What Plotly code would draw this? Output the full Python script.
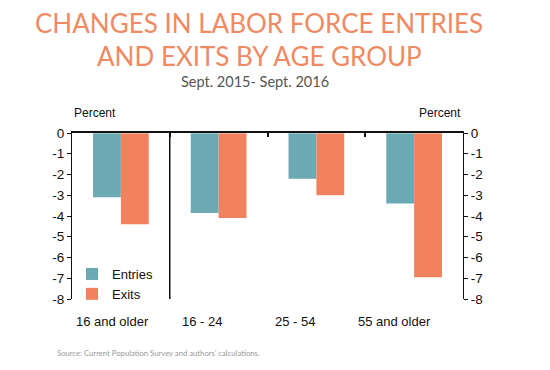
import plotly.graph_objects as go

categories = ["16 and older", "16 - 24", "25 - 54", "55 and older"]
entries = [-3.1, -3.85, -2.2, -3.4]
exits = [-4.4, -4.1, -3.0, -6.95]
y_ticks = [0, -1, -2, -3, -4, -5, -6, -7, -8]
y_ticktext = ["0", "-1", "-2", "-3", "-4", "-5", "-6", "-7", "-8"]

teal = "#6BA9B3"
salmon = "#F2825F"
title_color = "#EF8A62"

# page body has an 8px margin; target coordinates below are page pixels
OFF = 8
W, H = 542, 362
ML = 72 - OFF
MT = 133 - OFF
MR = W - (463 - OFF)
MB = H - (299 - OFF)
PW, PH = W - ML - MR, H - MT - MB


def px(x):
    return (x - OFF - ML) / PW


def py(y):
    return (H - MB - (y - OFF)) / PH


fig = go.Figure()
fig.add_trace(go.Bar(name="Entries", x=categories, y=entries, marker_color=teal, marker_line_width=0))
fig.add_trace(go.Bar(name="Exits", x=categories, y=exits, marker_color=salmon, marker_line_width=0))

tickfont = dict(family="Liberation Sans, Arial, sans-serif", size=13.5, color="#111")

fig.update_layout(
    width=W, height=H,
    margin=dict(l=ML, r=MR, t=MT, b=MB),
    paper_bgcolor="white", plot_bgcolor="white",
    barmode="group", bargap=0.43, bargroupgap=0,
    showlegend=True,
    legend=dict(x=0.0, y=py(259), xanchor="left", yanchor="top",
                font=dict(family="Liberation Sans, Arial, sans-serif", size=13, color="#111"),
                bgcolor="rgba(0,0,0,0)", itemwidth=30, tracegroupgap=0),
    xaxis=dict(side="top", showticklabels=False, showline=True, linecolor="#111", linewidth=1.5,
               ticks="inside", tickson="boundaries", ticklen=4, tickcolor="#111", tickwidth=2,
               showgrid=False, zeroline=False, automargin=False),
    yaxis=dict(range=[-8, 0], tickvals=y_ticks, ticktext=y_ticktext, ticks="outside", ticklen=4,
               tickcolor="#111", showline=True, linecolor="#111", linewidth=1.2,
               showgrid=False, zeroline=False, tickfont=tickfont, automargin=False),
    yaxis2=dict(range=[-8, 0], matches="y", overlaying="y", side="right",
                tickvals=y_ticks, ticktext=y_ticktext, ticks="outside", ticklen=4,
                tickcolor="#111", showline=True, linecolor="#111", linewidth=1.2,
                showgrid=False, zeroline=False, tickfont=tickfont, automargin=False),
)
# invisible trace to activate right axis
fig.add_trace(go.Bar(x=categories, y=[0, 0, 0, 0], yaxis="y2", showlegend=False,
                     hoverinfo="skip", marker_color="rgba(0,0,0,0)"))

# divider between overall and age groups
fig.add_shape(type="line", xref="x", yref="y", x0=0.5, x1=0.5, y0=-8, y1=0,
              line=dict(color="#111", width=1.5))

# category labels
label_shifts = [-8, -17, -21, -20]
for c, s in zip(categories, label_shifts):
    fig.add_annotation(x=c, xref="x", y=0, yref="paper", yanchor="middle", yshift=-(321 - 299),
                       xshift=s, text=c, showarrow=False,
                       font=dict(family="Liberation Sans, Arial, sans-serif", size=13, color="#111"))

pfont = dict(family="Liberation Sans, Arial, sans-serif", size=12, color="#111")
fig.add_annotation(x=0, xref="paper", y=py(113), yref="paper", xanchor="left", yanchor="middle",
                   text="Percent", showarrow=False, font=pfont)
fig.add_annotation(x=1, xref="paper", y=py(113), yref="paper", xanchor="right", yanchor="middle",
                   text="Percent", showarrow=False, font=pfont)

fig.add_annotation(x=px(259), xref="paper", y=py(23), yref="paper", yanchor="middle",
                   text="CHANGES IN LABOR FORCE ENTRIES", showarrow=False,
                   font=dict(family="Lato, sans-serif", size=26, color=title_color))
fig.add_annotation(x=px(259), xref="paper", y=py(56), yref="paper", yanchor="middle",
                   text="AND EXITS BY AGE GROUP", showarrow=False,
                   font=dict(family="Lato, sans-serif", size=26, color=title_color))
fig.add_annotation(x=px(255), xref="paper", y=py(81), yref="paper", yanchor="middle",
                   text="Sept. 2015- Sept. 2016", showarrow=False,
                   font=dict(family="Lato, sans-serif", size=14.5, color="#555"))
fig.add_annotation(x=px(55), xref="paper", y=py(353), yref="paper", yanchor="middle", xanchor="left",
                   text="Source: Current Population Survey and authors’ calculations.", showarrow=False,
                   font=dict(family="Lato, sans-serif", size=7.7, color="#999"))

fig.write_html("out.html")
